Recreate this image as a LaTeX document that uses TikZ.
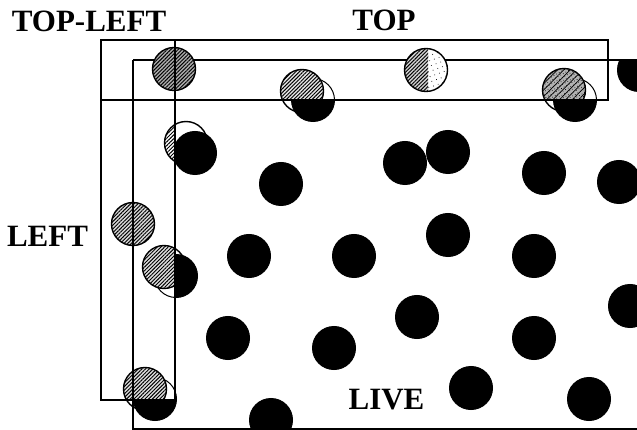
\documentclass[tikz,border=0pt]{standalone}
\usepackage{fontspec}
\setmainfont{Liberation Serif}
\usetikzlibrary{patterns,patterns.meta}
\begin{document}
\begin{tikzpicture}[x=1pt,y=-1pt,line width=1.3pt,
  lbl/.style={font=\bfseries\fontsize{31}{31}\selectfont,inner sep=0pt,anchor=base},
  hatch/.style={pattern={Lines[angle=45,distance=2.6pt,line width=0.95pt]}},
  stip/.style={pattern={Dots[radius=0.5pt,distance=3pt,angle=30]}},
  ghostline/.style={line width=1.4pt},
  liveline/.style={line width=1pt}]
\useasboundingbox (0,0) rectangle (637,430);
\def\R{21.5pt}

% outlines of live particles (clipped to live region)
\begin{scope}
  \clip (133,60) rectangle (640,429);
  \foreach \x/\y in {313/100,575/100,639/70,195/153,281/184,405/163,448/152,544/173,
      619/182,176/276,249/256,354/256,448/235,534/256,630/306,228/338,334/348,
      417/317,534/338,271/420,471/388,589/399,155/399}
    \draw[liveline] (\x,\y) circle[radius=\R];
\end{scope}

% live region top line (lies under the ghosts)
\draw (133,60) -- (637,60);

% ghost particles, filled only inside the ghost bands
\begin{scope}
  \clip (101,40) rectangle (608,100) (101,40) rectangle (175,400);
  % G1 top-left (dark)
  \fill[gray!65] (174,69) circle[radius=\R];
  \fill[hatch] (174,69) circle[radius=\R];
  % G2
  \fill[gray!20] (302,91) circle[radius=\R];
  \fill[hatch] (302,91) circle[radius=\R];
  % G3 half hatched, half stippled
  \fill[white] (426,70) circle[radius=\R];
  \begin{scope}
    \clip (400,40) rectangle (428,100);
    \fill[gray!35] (426,70) circle[radius=\R];
    \fill[hatch] (426,70) circle[radius=\R];
  \end{scope}
  \begin{scope}
    \clip (428,40) rectangle (460,100);
    \fill[pattern={Dots[radius=0.5pt,distance=5pt,angle=20]}] (426,70) circle[radius=\R];
  \end{scope}
  % G4 dark stipple
  \fill[gray!60] (564,90) circle[radius=\R];
  \fill[stip] (564,90) circle[radius=\R];
  \fill[pattern={Lines[angle=45,distance=4.5pt,line width=0.7pt]}] (564,90) circle[radius=\R];
  % G5
  \fill[white] (186,143) circle[radius=\R];
  \fill[hatch] (186,143) circle[radius=\R];
  % G6
  \fill[gray!30] (133,224) circle[radius=\R];
  \fill[hatch] (133,224) circle[radius=\R];
  % G7
  \fill[gray!25] (164,267) circle[radius=\R];
  \fill[hatch] (164,267) circle[radius=\R];
  % G8
  \fill[gray!25] (145,389) circle[radius=\R];
  \fill[hatch] (145,389) circle[radius=\R];
\end{scope}

% ghost outlines
\foreach \x/\y in {174/69,302/91,426/70,564/90,186/143,133/224,164/267,145/389}
  \draw[ghostline] (\x,\y) circle[radius=\R];

% live particles, solid only outside the ghost bands
\begin{scope}
  \clip (175,100) rectangle (640,429) (133,400) rectangle (175,429) (608,60) rectangle (640,100);
  \foreach \x/\y in {313/100,575/100,639/70,195/153,281/184,405/163,448/152,544/173,
      619/182,176/276,249/256,354/256,448/235,534/256,630/306,228/338,334/348,
      417/317,534/338,271/420,471/388,589/399,155/399}
    \fill (\x,\y) circle[radius=\R];
\end{scope}

% region borders
\draw (101,40) rectangle (608,100);
\draw (101,40) rectangle (175,400);
\draw (637,429) -- (133,429) -- (133,60);

% labels
\node[lbl] (topleft) at (89,31.5) {TOP-LEFT};
\node[lbl] (top) at (384,31) {TOP};
\node[lbl] (left) at (47.5,246.5) {LEFT};
\node[lbl] (live) at (386.5,409) {LIVE};
\end{tikzpicture}
\end{document}
